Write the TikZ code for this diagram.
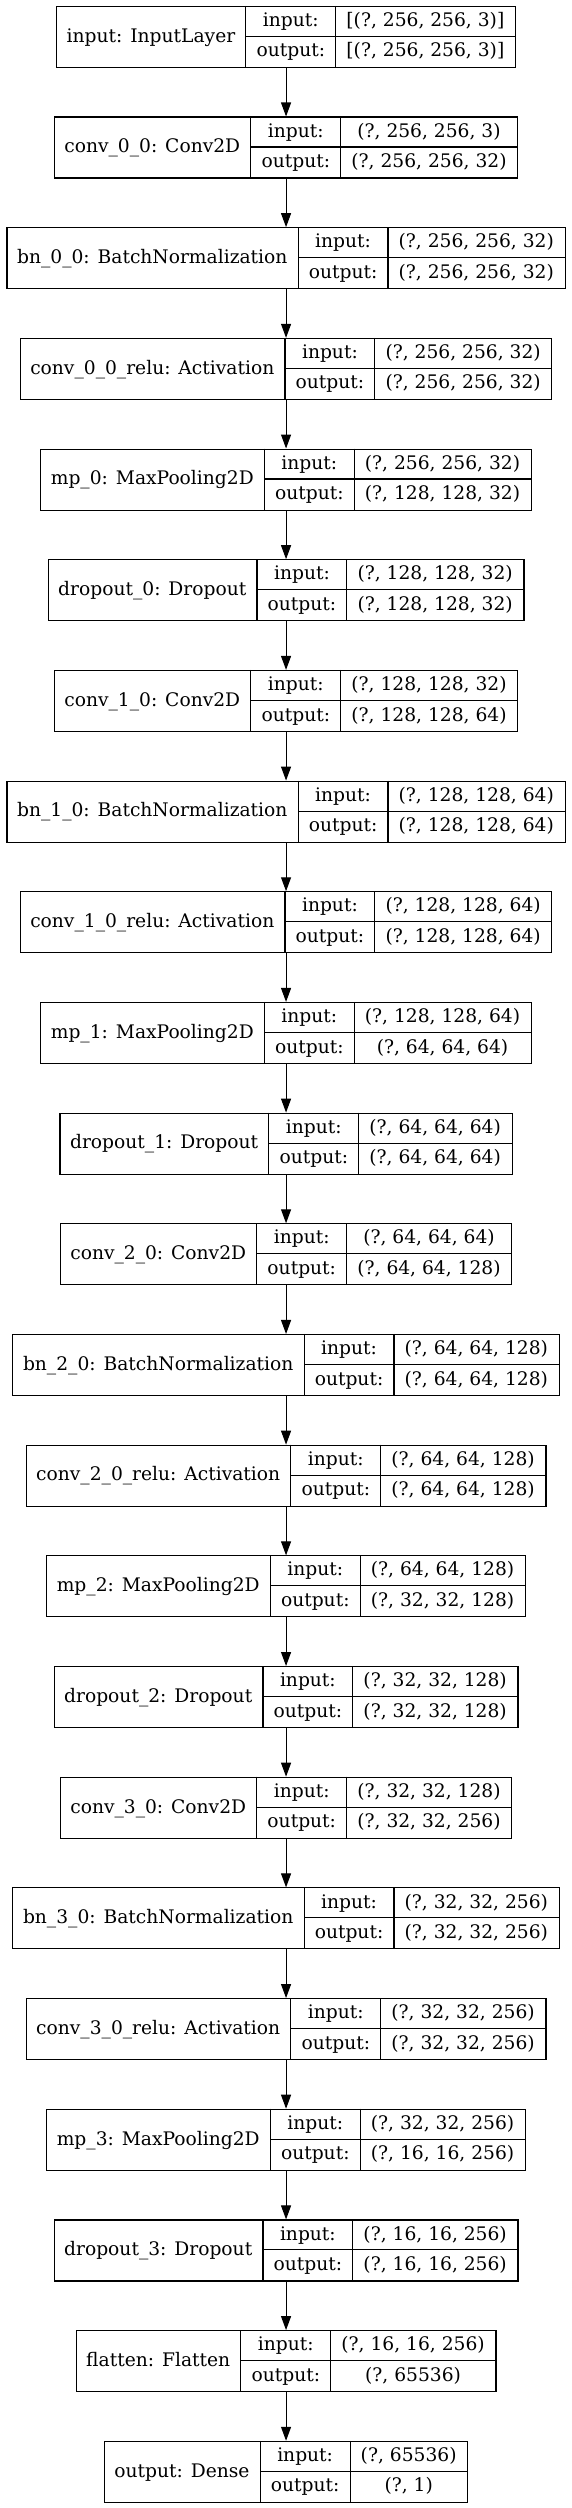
\documentclass[tikz,border=0pt]{standalone}
\usepackage{fontspec}
\setmainfont{DejaVu Serif}
\usetikzlibrary{arrows.meta}
\newlength\lwa \newlength\lwb \newlength\lwc \newlength\lwt
\newcommand\lf{\fontsize{18.67}{22}\selectfont}
\tikzset{
 layerbox/.style={draw=black, line width=1.1pt, inner sep=0pt, anchor=north west},
 cellline/.style={draw=black, line width=1.1pt},
 celltext/.style={anchor=base, inner sep=0pt, font=\lf},
 flow/.style={draw=black, line width=1.1pt, -{Triangle[length=14pt,width=10pt]}},
}
% measuring pass (outside the picture)
\newcommand\measurelayer[4]{%
 \settowidth\lwa{\lf #2}\addtolength\lwa{21.33pt}%
 \settowidth\lwc{\lf #3}\settowidth\lwt{\lf #4}%
 \ifdim\lwt>\lwc \lwc=\lwt\fi \addtolength\lwc{21.33pt}%
 \expandafter\xdef\csname lwa#1\endcsname{\the\lwa}%
 \expandafter\xdef\csname lwc#1\endcsname{\the\lwc}%
}
% drawing pass
\newcommand\drawlayer[4]{%
 \pgfmathsetmacro\WA{\csname lwa#1\endcsname}%
 \pgfmathsetmacro\WB{\lwbval}%
 \pgfmathsetmacro\WC{\csname lwc#1\endcsname}%
 \pgfmathsetmacro\LW{\WA+\WB+\WC}%
 \pgfmathsetmacro\LL{285.5-\LW/2}%
 \pgfmathsetmacro\LT{-(5.8+110.68*#1)}%
 \pgfmathsetmacro\LA{\LL+\WA}%
 \pgfmathsetmacro\LB{\LA+\WB}%
 \pgfmathsetmacro\LR{\LL+\LW}%
 \pgfmathsetmacro\LM{\LT-30.5}%
 \pgfmathsetmacro\LBot{\LT-61}%
 \pgfmathsetmacro\XN{\LL+\WA/2}%
 \pgfmathsetmacro\XI{\LA+\WB/2}%
 \pgfmathsetmacro\XS{\LB+\WC/2}%
 \pgfmathsetmacro\YN{\LM-5.8}%
 \pgfmathsetmacro\YI{\LT-15.25-5.4}%
 \pgfmathsetmacro\YO{\LT-45.75-5.4}%
 \node[layerbox, minimum width=\LW pt, minimum height=61pt] (L#1) at (\LL,\LT) {};
 \draw[cellline] (\LA,\LT) -- (\LA,\LBot) (\LB,\LT) -- (\LB,\LBot) (\LA,\LM) -- (\LR,\LM);
 \node[celltext] (L#1name) at (\XN,\YN) {#2};
 \node[celltext] (L#1in) at (\XI,\YI) {input:};
 \node[celltext] (L#1out) at (\XI,\YO) {output:};
 \node[celltext] (L#1ins) at (\XS,\YI) {#3};
 \node[celltext] (L#1outs) at (\XS,\YO) {#4};
}
\newcommand\alllayers{%
\lay{0}{input: InputLayer}{[(?, 256, 256, 3)]}{[(?, 256, 256, 3)]}%
\lay{1}{conv\_0\_0: Conv2D}{(?, 256, 256, 3)}{(?, 256, 256, 32)}%
\lay{2}{bn\_0\_0: BatchNormalization}{(?, 256, 256, 32)}{(?, 256, 256, 32)}%
\lay{3}{conv\_0\_0\_relu: Activation}{(?, 256, 256, 32)}{(?, 256, 256, 32)}%
\lay{4}{mp\_0: MaxPooling2D}{(?, 256, 256, 32)}{(?, 128, 128, 32)}%
\lay{5}{dropout\_0: Dropout}{(?, 128, 128, 32)}{(?, 128, 128, 32)}%
\lay{6}{conv\_1\_0: Conv2D}{(?, 128, 128, 32)}{(?, 128, 128, 64)}%
\lay{7}{bn\_1\_0: BatchNormalization}{(?, 128, 128, 64)}{(?, 128, 128, 64)}%
\lay{8}{conv\_1\_0\_relu: Activation}{(?, 128, 128, 64)}{(?, 128, 128, 64)}%
\lay{9}{mp\_1: MaxPooling2D}{(?, 128, 128, 64)}{(?, 64, 64, 64)}%
\lay{10}{dropout\_1: Dropout}{(?, 64, 64, 64)}{(?, 64, 64, 64)}%
\lay{11}{conv\_2\_0: Conv2D}{(?, 64, 64, 64)}{(?, 64, 64, 128)}%
\lay{12}{bn\_2\_0: BatchNormalization}{(?, 64, 64, 128)}{(?, 64, 64, 128)}%
\lay{13}{conv\_2\_0\_relu: Activation}{(?, 64, 64, 128)}{(?, 64, 64, 128)}%
\lay{14}{mp\_2: MaxPooling2D}{(?, 64, 64, 128)}{(?, 32, 32, 128)}%
\lay{15}{dropout\_2: Dropout}{(?, 32, 32, 128)}{(?, 32, 32, 128)}%
\lay{16}{conv\_3\_0: Conv2D}{(?, 32, 32, 128)}{(?, 32, 32, 256)}%
\lay{17}{bn\_3\_0: BatchNormalization}{(?, 32, 32, 256)}{(?, 32, 32, 256)}%
\lay{18}{conv\_3\_0\_relu: Activation}{(?, 32, 32, 256)}{(?, 32, 32, 256)}%
\lay{19}{mp\_3: MaxPooling2D}{(?, 32, 32, 256)}{(?, 16, 16, 256)}%
\lay{20}{dropout\_3: Dropout}{(?, 16, 16, 256)}{(?, 16, 16, 256)}%
\lay{21}{flatten: Flatten}{(?, 16, 16, 256)}{(?, 65536)}%
\lay{22}{output: Dense}{(?, 65536)}{(?, 1)}%
}
\begin{document}
\settowidth\lwb{\lf output:}\addtolength\lwb{21.33pt}%
\xdef\lwbval{\the\lwb}%
\let\lay\measurelayer
\alllayers
\begin{tikzpicture}[x=1pt,y=1pt]
\fill[white] (0,0) rectangle (571,-2508);
\useasboundingbox (0,0) rectangle (571,-2508);
\let\lay\drawlayer
\alllayers
\foreach \i [evaluate=\i as \j using int(\i+1)] in {0,...,21}
  \draw[flow] (L\i.south) -- (L\j.north);
\end{tikzpicture}
\end{document}
